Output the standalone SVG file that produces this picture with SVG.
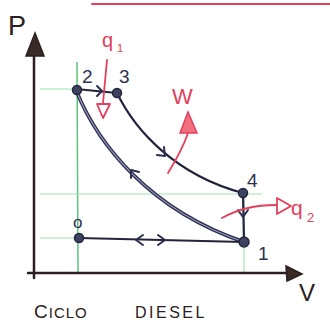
<svg xmlns="http://www.w3.org/2000/svg" width="330" height="330" viewBox="0 0 330 330">
<defs>
<style>
.axis{stroke:#2a2020;stroke-width:2.5;fill:none;stroke-linecap:round}
.grid{stroke:#9fe0b2;stroke-width:1.1;fill:none}
.gridv{stroke:#5cc47e;stroke-width:1.5;fill:none}
.curve{stroke:#2c2e4c;stroke-width:3.6;fill:none;stroke-linecap:round}
.curve-in{stroke:#9a9cc4;stroke-width:1.1;fill:none}
.line{stroke:#22243c;stroke-width:2.2;fill:none;stroke-linecap:round}
.chev{stroke:#2c2e4c;stroke-width:2;fill:none;stroke-linecap:round;stroke-linejoin:round}
.red{stroke:#e2405c;stroke-width:1.8;fill:none;stroke-linecap:round;stroke-linejoin:round}
.pt{fill:#3d4260;stroke:#23263d;stroke-width:1.5}
.lbl{font-family:"Liberation Sans",Arial,sans-serif;fill:#2d3050}
.rlbl{font-family:"Liberation Sans",Arial,sans-serif;fill:#e2405c}
.blk{font-family:"Liberation Sans",Arial,sans-serif;fill:#2a2020}
</style>
</defs>
<rect width="330" height="330" fill="#ffffff"/>

<g id="grid">
<line class="gridv" x1="77" y1="62" x2="78" y2="272"/>
<line class="grid" x1="40" y1="89" x2="78" y2="89"/>
<line class="grid" x1="40" y1="194" x2="262" y2="194"/>
<line class="grid" x1="40" y1="238" x2="80" y2="238"/>
<line class="grid" x1="244" y1="188" x2="244" y2="272"/>
</g>

<g id="axes">
<line class="axis" x1="34" y1="278" x2="34" y2="50"/>
<polygon points="26,56 35,33 44,56" fill="#3a2a26" stroke="#2a2020" stroke-width="1.5"/>
<line class="axis" x1="28" y1="273" x2="288" y2="273"/>
<polygon points="286,266 302,274 287,281" fill="#3a2a26" stroke="#2a2020" stroke-width="1.5"/>
<text class="blk" x="8" y="35" font-size="27">P</text>
<text class="blk" x="299" y="301" font-size="24">V</text>
</g>

<g id="connectors">
<path class="curve" d="M76,90 C98,145 150,210 244,242"/>
<path class="curve-in" d="M76,90 C98,145 150,210 244,242"/>
<path class="line" d="M117,93 C135,130 175,175 243,193"/>
<line class="line" x1="76" y1="89" x2="117" y2="93"/>
<line class="line" x1="243" y1="193" x2="244" y2="242"/>
<line class="line" x1="79" y1="238" x2="244" y2="242"/>
<polyline class="chev" points="97,86 102,91 97,96"/>
<polyline class="chev" points="157,155 165,156 164,147"/>
<polyline class="chev" points="139,172 131,170 131,178"/>
<polyline class="chev" points="238,210 243,217 248,210"/>
<polyline class="chev" points="143,235 136,240 143,245"/>
<polyline class="chev" points="158,235 165,240 158,245"/>
</g>

<g id="point-2"><circle class="pt" cx="77" cy="90" r="4.5"/><text class="lbl" x="82" y="83" font-size="19">2</text></g>
<g id="point-3"><circle class="pt" cx="117" cy="93" r="4.5"/><text class="lbl" x="119" y="83" font-size="19">3</text></g>
<g id="point-4"><circle class="pt" cx="243" cy="193" r="4.5"/><text class="lbl" x="247" y="187" font-size="19">4</text></g>
<g id="point-1"><circle class="pt" cx="244" cy="242" r="5"/><text class="lbl" x="258" y="260" font-size="19">1</text></g>
<g id="point-0"><circle class="pt" cx="79" cy="238" r="4.5"/><text class="lbl" x="73" y="228" font-size="17">o</text></g>

<g id="heat-in">
<text class="rlbl" x="102" y="47" font-size="20">q</text>
<text class="rlbl" x="117" y="52" font-size="11">1</text>
<line class="red" x1="107" y1="60" x2="103" y2="103"/>
<polygon class="red" points="97,104 110,104 103,118"/>
</g>

<g id="work">
<text class="rlbl" x="172" y="104" font-size="22">W</text>
<path class="red" d="M168,173 C176,160 183,148 188,133"/>
<polygon points="180,133 197,133 188,112" fill="#f07080" stroke="#e2405c" stroke-width="1.5"/>
</g>

<g id="heat-out">
<path class="red" d="M222,218 Q245,205 276,205"/>
<polygon class="red" points="277,198 277,214 291,206"/>
<text class="rlbl" x="291" y="215" font-size="21">q</text>
<text class="rlbl" x="307" y="222" font-size="13">2</text>
</g>

<g id="top-line">
<line class="red" x1="92" y1="4" x2="330" y2="4"/>
</g>

<g id="title">
<text class="blk" x="34" y="318" font-size="19" letter-spacing="1">C<tspan font-size="15">ICLO</tspan></text>
<text class="blk" x="135" y="318" font-size="16" letter-spacing="2.5">DIESEL</text>
</g>
</svg>
